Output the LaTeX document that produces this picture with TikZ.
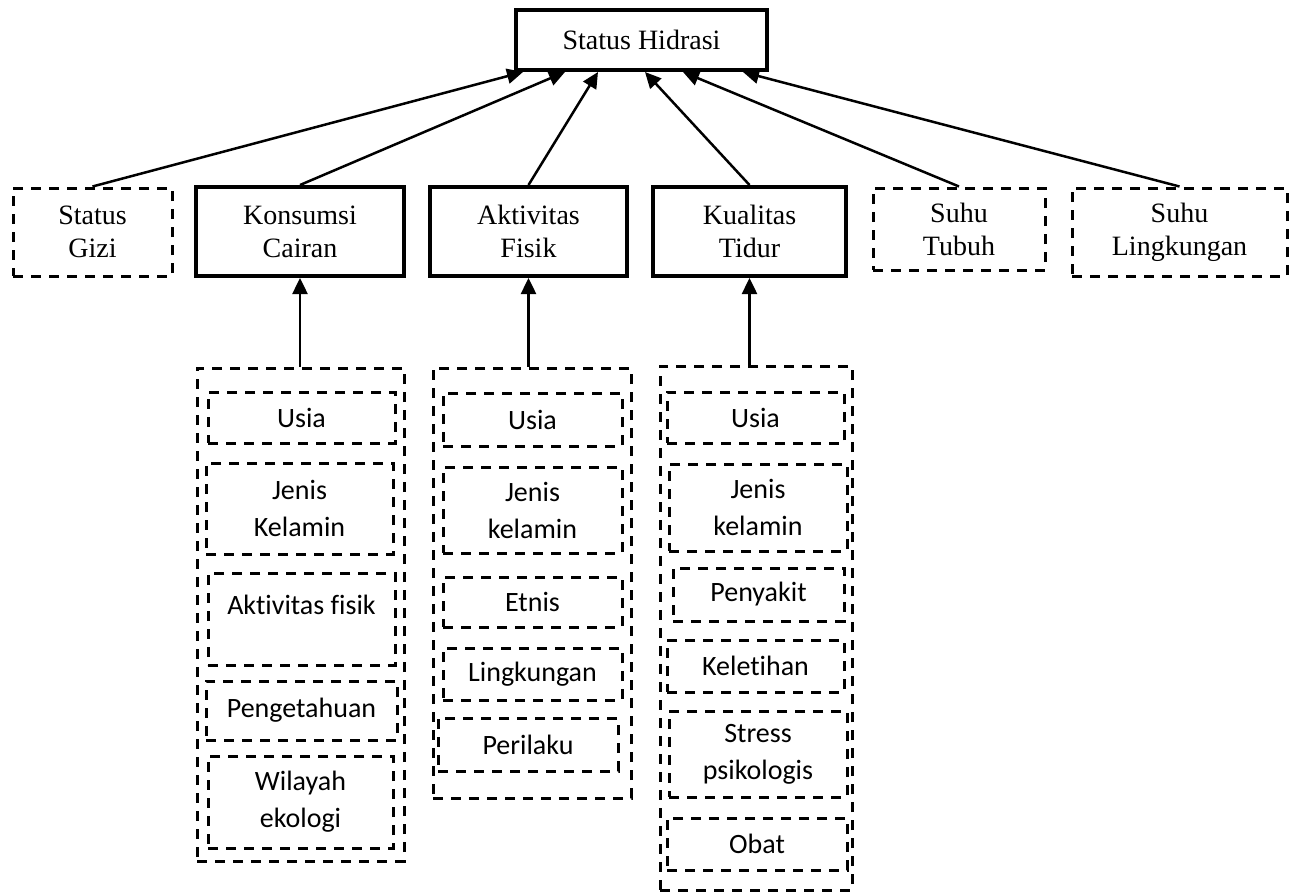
\documentclass[tikz,border=0pt]{standalone}
\usepackage{fontspec}
\setmainfont{Liberation Serif}
\newfontfamily\sansf[Ligatures={NoCommon}]{Carlito}
\usetikzlibrary{arrows.meta}
\begin{document}
\begin{tikzpicture}[x=1pt,y=-1pt,
  solidbox/.style={draw, line width=4pt, inner sep=0pt, align=center, font=\fontsize{28}{33}\selectfont},
  serifdash/.style={draw, line width=3pt, dash pattern=on 10pt off 8pt, inner sep=0pt, align=center, font=\fontsize{28}{33}\selectfont},
  colbox/.style={draw, line width=3pt, dash pattern=on 10pt off 8pt, inner sep=0pt},
  itembox/.style={draw, line width=3pt, dash pattern=on 10pt off 8pt, inner sep=0pt, align=center, font=\sansf\fontsize{28}{37}\selectfont},
  conn/.style={line width=2.5pt, -{Triangle[length=16pt,width=15pt]}},
]
\useasboundingbox (0,0) rectangle (1290,892);

% top
\node[solidbox, minimum width=251pt, minimum height=60pt] (top) at (641.5,40) {Status Hidrasi};

% second row
\node[serifdash, minimum width=159pt, minimum height=88pt] (gizi) at (92.5,232) {Status\\Gizi};
\node[solidbox, minimum width=208pt, minimum height=89pt] (konsumsi) at (300,231.5) {Konsumsi\\Cairan};
\node[solidbox, minimum width=197pt, minimum height=89pt] (aktivitas) at (528.5,231.5) {Aktivitas\\Fisik};
\node[solidbox, minimum width=193pt, minimum height=89pt] (kualitas) at (749.5,231.5) {Kualitas\\Tidur};
\node[serifdash, minimum width=172pt, minimum height=82pt] (tubuh) at (959,229) {Suhu\\Tubuh};
\node[serifdash, minimum width=215pt, minimum height=88pt] (lingk) at (1179.5,232) {Suhu\\Lingkungan};

% arrow tips on the top box
\coordinate (t1) at (523,72);
\coordinate (t2) at (565,72);
\coordinate (t3) at (598,72);
\coordinate (t4) at (645,72);
\coordinate (t5) at (683,72);
\coordinate (t6) at (743,72);

\draw[conn] (gizi.north) -- (t1);
\draw[conn] (konsumsi.north) -- (t2);
\draw[conn] (aktivitas.north) -- (t3);
\draw[conn] (kualitas.north) -- (t4);
\draw[conn] (tubuh.north) -- (t5);
\draw[conn] (lingk.north) -- (t6);

% column containers
\node[colbox, minimum width=207pt, minimum height=493pt] (kcol) at (300.5,614.5) {};
\node[colbox, minimum width=198pt, minimum height=430pt] (acol) at (532,583) {};
\node[colbox, minimum width=192pt, minimum height=524pt] (qcol) at (756,628) {};

\draw[conn] (konsumsi.south |- kcol.north) -- (konsumsi.south);
\draw[conn] (aktivitas.south |- acol.north) -- (aktivitas.south);
\draw[conn] (kualitas.south |- qcol.north) -- (kualitas.south);

% Konsumsi column items
\node[itembox, minimum width=187pt, minimum height=51pt] (k1) at (301.5,417.5) {Usia};
\node[itembox, minimum width=187pt, minimum height=91pt] (k2) at (299.5,508.5) {Jenis\\Kelamin};
\node[itembox, minimum width=187pt, minimum height=92pt, text height=19pt, text depth=29pt] (k3) at (301.5,619) {Aktivitas fisik};
\node[itembox, minimum width=191pt, minimum height=59pt] (k4) at (301.5,710.5) {Pengetahuan};
\node[itembox, minimum width=185pt, minimum height=92pt] (k5) at (300.5,802) {Wilayah\\ekologi};

% Aktivitas column items
\node[itembox, minimum width=179pt, minimum height=53pt] (a1) at (532.5,419.5) {Usia};
\node[itembox, minimum width=179pt, minimum height=86pt] (a2) at (532.5,510) {Jenis\\kelamin};
\node[itembox, minimum width=179pt, minimum height=50pt] (a3) at (532.5,602) {Etnis};
\node[itembox, minimum width=179pt, minimum height=52pt] (a4) at (532.5,674) {Lingkungan};
\node[itembox, minimum width=180pt, minimum height=53pt] (a5) at (528,744.5) {Perilaku};

% Kualitas column items
\node[itembox, minimum width=177pt, minimum height=51pt] (q1) at (755.5,417.5) {Usia};
\node[itembox, minimum width=178pt, minimum height=87pt] (q2) at (758,507.5) {Jenis\\kelamin};
\node[itembox, minimum width=171pt, minimum height=53pt] (q3) at (758.5,594.5) {Penyakit};
\node[itembox, minimum width=177pt, minimum height=52pt] (q4) at (755.5,666) {Keletihan};
\node[itembox, minimum width=178pt, minimum height=86pt] (q5) at (758,754) {Stress\\psikologis};
\node[itembox, minimum width=180pt, minimum height=52pt] (q6) at (757,844) {Obat};
\end{tikzpicture}
\end{document}
